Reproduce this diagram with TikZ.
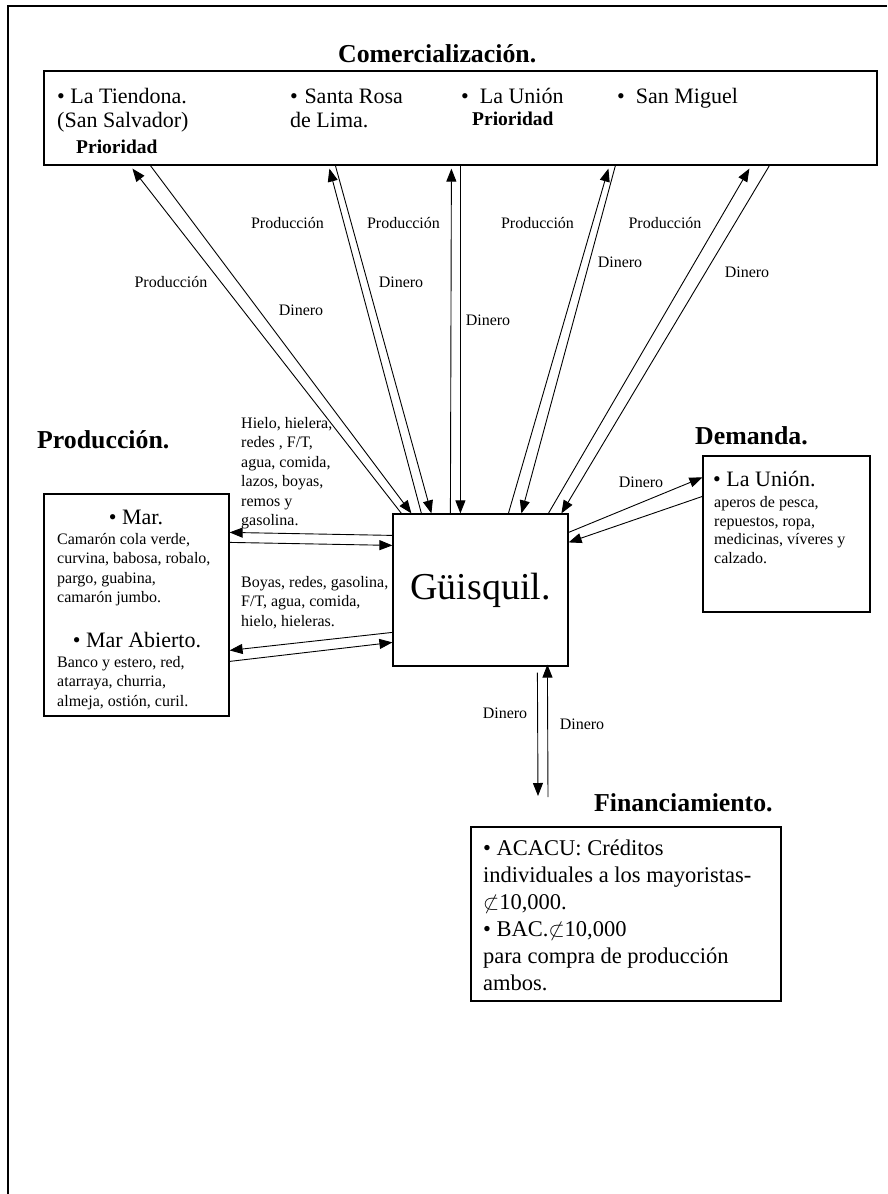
\documentclass[tikz,border=0pt]{standalone}
\usepackage{fontspec}
\setmainfont{Liberation Serif}
\usetikzlibrary{arrows.meta,calc}
\begin{document}
\begin{tikzpicture}[x=1pt,y=-1pt,
  box/.style={draw, line width=1.2pt, inner sep=0},
  arr/.style={line width=0.9pt, -{Triangle[length=13pt,width=10pt]}},
  lbl/.style={font=\fontsize{16}{19.5}\selectfont, inner sep=0},
  txt/.style={font=\fontsize{22}{25}\selectfont, inner sep=0, anchor=base west},
  prio/.style={font=\fontsize{19.5}{22}\selectfont\bfseries, inner sep=0, anchor=base west},
  ttl/.style={font=\fontsize{25.8}{30}\selectfont\bfseries, inner sep=0, anchor=base west},
  small/.style={font=\fontsize{16}{19.5}\selectfont, inner sep=0, anchor=north west, align=left},
]
\useasboundingbox (0,0) rectangle (887,1194);
% partial frame
\draw[line width=2pt] (887,6) -- (8,6) -- (8,1194);

% titles
\node[ttl] (tcom) at (338,62) {Comercialización.};
\node[ttl] (tprod) at (37,448) {Producción.};
\node[ttl] (tdem) at (695,444) {Demanda.};
\node[ttl] (tfin) at (594,811) {Financiamiento.};

% Comercializacion box
\node[box, minimum width=833, minimum height=94] (com) at (460.5,118) {};
\node[txt] (c1a) at (57,103) {• La Tiendona.};
\node[txt] (c1b) at (57,127) {(San Salvador)};
\node[prio] (c1c) at (76,153) {Prioridad};
\node[txt] (c2a) at (290,103) {•\hspace{0.3em}Santa Rosa};
\node[txt] (c2b) at (290,127) {de Lima.};
\node[txt] (c3a) at (461,103) {•\hspace{0.5em}La Unión};
\node[prio] (c3b) at (472,125) {Prioridad};
\node[txt] (c4a) at (617,103) {•\hspace{0.5em}San Miguel};

% Guisquil box
\node[box, minimum width=175, minimum height=152, font=\fontsize{38}{40}\selectfont] (gu) at (480.5,590) {\raisebox{-5pt}{Güisquil.}};

% Mar box
\node[box, minimum width=185, minimum height=222] (mar) at (136.5,605) {};
\node[font=\fontsize{22}{25}\selectfont, inner sep=0, anchor=base] (m1) at (136,524) {• Mar.};
\node[small] (m1t) at (57,532) {\rule{0pt}{12pt}Camarón cola verde,\\curvina, babosa, robalo,\\pargo, guabina,\\camarón jumbo.};
\node[font=\fontsize{22}{25}\selectfont, inner sep=0, anchor=base] (m2) at (137,647) {• Mar Abierto.};
\node[small] (m2t) at (57,655) {\rule{0pt}{12pt}Banco y estero, red,\\atarraya, churria,\\almeja, ostión, curil.};

% input lists
\node[small] (in1) at (241,416) {\rule{0pt}{12pt}Hielo, hielera,\\redes , F/T,\\agua, comida,\\lazos, boyas,\\remos y\\gasolina.};
\node[small] (in2) at (241,575) {\rule{0pt}{12pt}Boyas, redes, gasolina,\\F/T, agua, comida,\\hielo, hieleras.};

% Demanda box
\node[box, minimum width=167, minimum height=156] (dem) at (786.5,534) {};
\node[txt] (d1) at (713,486) {• La Unión.};
\node[font=\fontsize{16}{18.8}\selectfont, inner sep=0, anchor=north west, align=left] (d1t) at (714,495) {\rule{0pt}{12pt}aperos de pesca,\\repuestos, ropa,\\medicinas, víveres y\\calzado.};

% Financiamiento box
\node[box, minimum width=310, minimum height=174] (fin) at (626,914) {};
\node[font=\fontsize{22.5}{27}\selectfont, inner sep=0, anchor=north west, align=left] (fint) at (483,838.1) {\rule{0pt}{16.9pt}• ACACU: Créditos\\individuales a los mayoristas-\\$\not\subset$10,000.\\• BAC.$\not\subset$10,000\\para compra de producción\\ambos.};

% connectors Guisquil <-> Comercializacion
\draw[arr] ($(gu.north west)+(9,0)$) -- ($(com.south west)+(89,3)$);
\draw[arr] ($(com.south west)+(107,0)$) -- ($(gu.north west)+(19,0)$);
\draw[arr] ($(gu.north west)+(29,0)$) -- ($(com.south west)+(286,3)$);
\draw[arr] ($(com.south west)+(292,0)$) -- ($(gu.north west)+(39,0)$);
\draw[arr] ($(gu.north west)+(58,0)$) -- ($(com.south west)+(408,3)$);
\draw[arr] ($(com.south west)+(417,0)$) -- ($(gu.north west)+(68,0)$);
\draw[arr] ($(gu.north west)+(116,0)$) -- ($(com.south west)+(565,3)$);
\draw[arr] ($(com.south west)+(572,0)$) -- ($(gu.north west)+(129,0)$);
\draw[arr] ($(gu.north west)+(156,0)$) -- ($(com.south west)+(706,3)$);
\draw[arr] ($(com.south west)+(726,0)$) -- ($(gu.north west)+(169,0)$);

% labels on top connectors
\node[lbl] (l1) at (171,282) {Producción};
\node[lbl] (l2) at (287.5,223) {Producción};
\node[lbl] (l3) at (403.5,223) {Producción};
\node[lbl] (l4) at (537.5,223) {Producción};
\node[lbl] (l5) at (665,223) {Producción};
\node[lbl] (l6) at (301,310) {Dinero};
\node[lbl] (l7) at (401,282) {Dinero};
\node[lbl] (l8) at (488,320) {Dinero};
\node[lbl] (l9) at (620,262) {Dinero};
\node[lbl] (l10) at (747,272) {Dinero};

% Mar <-> Guisquil
\draw[arr] ($(gu.north west)+(0,22)$) -- ($(mar.north east)+(0,39)$);
\draw[arr] ($(mar.north east)+(0,49)$) -- ($(gu.north west)+(0,32)$);
\draw[arr] ($(gu.north west)+(0,119)$) -- ($(mar.north east)+(0,157)$);
\draw[arr] ($(mar.north east)+(0,168)$) -- ($(gu.north west)+(0,129)$);

% Demanda <-> Guisquil
\draw[arr] ($(gu.north east)+(0,19)$) -- ($(dem.north west)+(0,22)$);
\draw[arr] ($(dem.north west)+(0,41)$) -- ($(gu.north east)+(0,29)$);
\node[lbl] (l11) at (641,482) {Dinero};

% Financiamiento <-> Guisquil
\coordinate (b1) at (548,797);
\coordinate (b2) at (538,796);
\draw[arr] (b1) -- ($(gu.south west)+(155,-2)$);
\draw[arr] ($(gu.south west)+(145,6)$) -- (b2);
\node[lbl] (l12) at (505,713) {Dinero};
\node[lbl] (l13) at (582,724) {Dinero};
\end{tikzpicture}
\end{document}
